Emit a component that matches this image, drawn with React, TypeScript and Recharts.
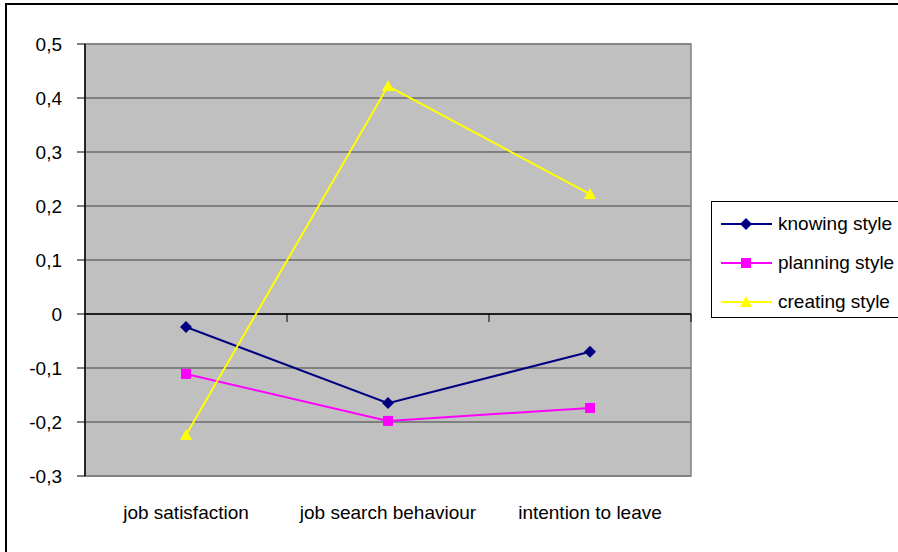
import { LineChart, Line, XAxis, YAxis, CartesianGrid, ReferenceLine, ReferenceArea } from 'recharts';

const categories = ['job satisfaction', 'job search behaviour', 'intention to leave'];
const knowing = [-0.024, -0.165, -0.07];
const planning = [-0.111, -0.198, -0.174];
const creating = [-0.224, 0.422, 0.222];
const yTicks = [-0.3, -0.2, -0.1, 0, 0.1, 0.2, 0.3, 0.4, 0.5];

const data = categories.map((c, i) => ({
  x: i,
  name: c,
  knowing: knowing[i],
  planning: planning[i],
  creating: creating[i],
}));

const FONT = '"Liberation Sans", Arial, sans-serif';

const fmt = (v: number) => (v === 0 ? '0' : v.toFixed(1).replace('.', ','));

const Diamond = (p: any) => {
  const { cx, cy, key } = p;
  if (cx == null || cy == null) return <g key={key} />;
  return <path key={key} d={`M${cx},${cy - 6}L${cx + 6},${cy}L${cx},${cy + 6}L${cx - 6},${cy}Z`} fill="#000080" />;
};
const Square = (p: any) => {
  const { cx, cy, key } = p;
  if (cx == null || cy == null) return <g key={key} />;
  return <rect key={key} x={cx - 5} y={cy - 5} width={10} height={10} fill="#FF00FF" />;
};
const Triangle = (p: any) => {
  const { cx, cy, key } = p;
  if (cx == null || cy == null) return <g key={key} />;
  return <path key={key} d={`M${cx},${cy - 6}L${cx + 6},${cy + 5}L${cx - 6},${cy + 5}Z`} fill="#FFFF00" />;
};

const legendItems = [
  { label: 'knowing style', color: '#000080', shape: 'diamond' },
  { label: 'planning style', color: '#FF00FF', shape: 'square' },
  { label: 'creating style', color: '#FFFF00', shape: 'triangle' },
];

const LegendBox = () => (
  <div
    style={{
      position: 'absolute',
      left: 711,
      top: 201,
      border: '1px solid #000',
      width: 200,
      height: 117,
      boxSizing: 'border-box',
      paddingTop: 2,
      fontFamily: FONT,
      fontSize: 19,
      color: '#000',
      background: '#fff',
    }}
  >
    {legendItems.map((it) => (
      <div key={it.label} style={{ display: 'flex', alignItems: 'center', height: 39 }}>
        <svg width={66} height={14} style={{ flex: 'none' }}>
          <line x1={9} x2={60} y1={7} y2={7} stroke={it.color} strokeWidth={2} />
          {it.shape === 'diamond' && <path d="M34,1L40,7L34,13L28,7Z" fill={it.color} />}
          {it.shape === 'square' && <rect x={29} y={2} width={10} height={10} fill={it.color} />}
          {it.shape === 'triangle' && <path d="M34,1L40,12L28,12Z" fill={it.color} />}
        </svg>
        <span style={{ whiteSpace: 'nowrap' }}>{it.label}</span>
      </div>
    ))}
  </div>
);

export default function App() {
  return (
    <div style={{ position: 'absolute', left: 0, top: 0, width: 898, height: 552, background: '#fff', overflow: 'hidden' }}>
      <div
        style={{
          position: 'absolute',
          left: 5,
          top: 3,
          width: 900,
          height: 560,
          border: '2px solid #000',
          boxSizing: 'border-box',
        }}
      />
      <LineChart
        width={898}
        height={552}
        data={data}
        margin={{ top: 44, right: 207, bottom: 0, left: 0 }}
        style={{ position: 'absolute', left: 0, top: 0 }}
      >
        <CartesianGrid vertical={false} stroke="#404040" fill="#C0C0C0" fillOpacity={1} />
        <ReferenceArea x1={-0.5} x2={2.5} y1={-0.3} y2={0.5} fill="none" stroke="#808080" strokeWidth={1.5} />
        <XAxis
          dataKey="x"
          type="number"
          domain={[-0.5, 2.5]}
          ticks={[0, 1, 2]}
          tickFormatter={(v: number) => categories[v]}
          axisLine={false}
          tickLine={false}
          height={76}
          tickMargin={24}
          tick={{ fontSize: 19, fill: '#000', fontFamily: FONT }}
        />
        <YAxis
          domain={[-0.3, 0.5]}
          ticks={yTicks}
          tickFormatter={fmt}
          width={85}
          axisLine={{ stroke: '#000', strokeWidth: 1.5 }}
          tickLine={{ stroke: '#000' }}
          tickSize={8}
          tickMargin={15}
          interval={0}
          tick={{ fontSize: 19, fill: '#000', fontFamily: FONT }}
        />
        <ReferenceLine y={0} stroke="#000" strokeWidth={1.5} />
        {[0.5, 1.5, 2.5].map((b) => (
          <ReferenceLine
            key={b}
            segment={[
              { x: b, y: 0 },
              { x: b, y: -0.015 },
            ]}
            stroke="#000"
          />
        ))}
        <Line dataKey="knowing" stroke="#000080" strokeWidth={2} dot={Diamond} activeDot={false} isAnimationActive={false} />
        <Line dataKey="planning" stroke="#FF00FF" strokeWidth={2} dot={Square} activeDot={false} isAnimationActive={false} />
        <Line dataKey="creating" stroke="#FFFF00" strokeWidth={2} dot={Triangle} activeDot={false} isAnimationActive={false} />
      </LineChart>
      <LegendBox />
    </div>
  );
}
